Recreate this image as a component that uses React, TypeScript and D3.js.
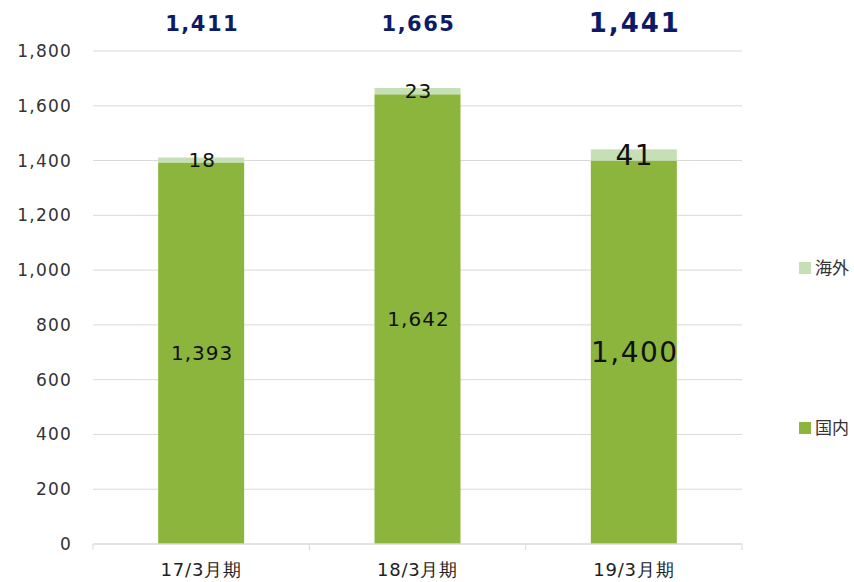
import * as d3 from 'd3';
import { useEffect, useRef } from 'react';

// chart data
const periods = ['17/3月期', '18/3月期', '19/3月期'];
const domestic = [1393, 1642, 1400];
const overseas = [18, 23, 41];
const totals = [1411, 1665, 1441];
const yTicks = [0, 200, 400, 600, 800, 1000, 1200, 1400, 1600, 1800];
const seriesNames = ['国内', '海外'];

const width = 854;
const height = 582;
const margin = { top: 51, right: 112, bottom: 38, left: 93 };
const font = '"DejaVu Sans", Verdana, sans-serif';
const colors = { 国内: '#8bb53d', 海外: '#c5e0b4' };

function App() {
    const svgRef = useRef(null);

    useEffect(() => {
        const svg = d3.select(svgRef.current);
        svg.selectAll('*').remove();

        const drawWidth = width - margin.left - margin.right;
        const drawHeight = height - margin.top - margin.bottom;

        const xScale = d3.scaleBand().domain(periods).range([0, drawWidth]).paddingInner(0).paddingOuter(0);
        const yScale = d3.scaleLinear().domain([0, 1800]).range([drawHeight, 0]);
        const barWidth = 86;

        const g = svg.append('g').attr('transform', `translate(${margin.left},${margin.top})`);

        // gridlines
        g.selectAll('.grid').data(yTicks.filter(t => t > 0)).enter().append('line')
            .attr('x1', 0).attr('x2', drawWidth)
            .attr('y1', d => yScale(d)).attr('y2', d => yScale(d))
            .attr('stroke', '#d9d9d9').attr('stroke-width', 1);

        // y labels
        g.selectAll('.ylab').data(yTicks).enter().append('text')
            .attr('x', -21).attr('y', d => yScale(d)).attr('dy', '0.35em')
            .attr('text-anchor', 'end').attr('font-size', 17).attr('letter-spacing', 1.2)
            .attr('font-family', font).attr('fill', '#333')
            .text(d => d3.format(',')(d));

        // stacked bars
        const rows = periods.map((p, i) => ({ period: p, 国内: domestic[i], 海外: overseas[i] }));
        const stack = d3.stack().keys(seriesNames)(rows);
        stack.forEach(layer => {
            g.selectAll(`.bar-${layer.key}`).data(layer).enter().append('rect')
                .attr('x', d => xScale(d.data.period) + xScale.bandwidth() / 2 - barWidth / 2)
                .attr('width', barWidth)
                .attr('y', d => yScale(d[1]))
                .attr('height', d => yScale(d[0]) - yScale(d[1]))
                .attr('fill', colors[layer.key]);
        });

        // segment labels (last period larger)
        stack.forEach(layer => {
            g.selectAll(`.lab-${layer.key}`).data(layer).enter().append('text')
                .attr('x', d => xScale(d.data.period) + xScale.bandwidth() / 2 + 1)
                .attr('y', d => yScale((d[0] + d[1]) / 2))
                .attr('dy', '0.36em')
                .attr('text-anchor', 'middle')
                .attr('font-family', font)
                .attr('font-size', (d, i) => (i === 2 ? 28 : 20))
                .attr('letter-spacing', (d, i) => (i === 2 ? 1.5 : 1))
                .attr('fill', '#111')
                .text(d => d3.format(',')(d[1] - d[0]));
        });

        // totals
        g.selectAll('.total').data(totals).enter().append('text')
            .attr('x', (d, i) => xScale(periods[i]) + xScale.bandwidth() / 2 + 1)
            .attr('y', (d, i) => (i === 2 ? -19 : -20))
            .attr('text-anchor', 'middle')
            .attr('font-family', font).attr('font-weight', 'bold')
            .attr('font-size', (d, i) => (i === 2 ? 26 : 21))
            .attr('letter-spacing', (d, i) => (i === 2 ? 2 : 1.5))
            .attr('fill', '#0d1b66')
            .text(d => d3.format(',')(d));

        // x axis
        const xAxis = g.append('g').attr('transform', `translate(0,${drawHeight})`);
        xAxis.append('line').attr('x1', 0).attr('x2', drawWidth).attr('stroke', '#d9d9d9').attr('stroke-width', 1.5);
        xAxis.selectAll('.tick').data(d3.range(periods.length + 1)).enter().append('line')
            .attr('x1', d => d * xScale.bandwidth()).attr('x2', d => d * xScale.bandwidth())
            .attr('y1', 0).attr('y2', 6).attr('stroke', '#d9d9d9');
        xAxis.selectAll('.xlab').data(periods).enter().append('text')
            .attr('x', d => xScale(d) + xScale.bandwidth() / 2).attr('y', 32)
            .attr('text-anchor', 'middle').attr('font-size', 18).attr('letter-spacing', 0.8)
            .attr('font-family', font).attr('fill', '#222')
            .text(d => d);

        // legend
        const legendItems = [{ key: '海外', y: 267 }, { key: '国内', y: 427 }];
        const legend = svg.selectAll('.legend').data(legendItems).enter().append('g')
            .attr('transform', d => `translate(799,${d.y})`);
        legend.append('rect').attr('x', 0).attr('y', -5).attr('width', 12).attr('height', 12)
            .attr('fill', d => colors[d.key]);
        legend.append('text').attr('x', 16).attr('y', 1).attr('dy', '0.36em')
            .attr('font-size', 17).attr('font-family', '"Noto Sans CJK JP", sans-serif').attr('fill', '#333')
            .text(d => d.key);
    }, []);

    return (
        <svg ref={svgRef} width={width} height={height}
            style={{ position: 'absolute', left: 0, top: 0, background: '#fff' }} />
    );
}

export default App;
